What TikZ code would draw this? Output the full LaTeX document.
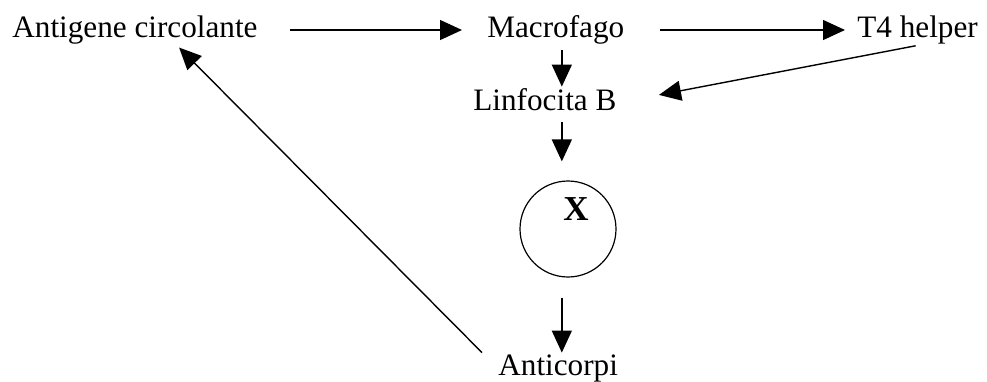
\documentclass[tikz,border=0pt]{standalone}
\usepackage{fontspec}
\setmainfont{Liberation Serif}
\usepackage{xcolor}
\usetikzlibrary{positioning,arrows.meta}
\definecolor{ImmInk}{HTML}{000000}
\tikzset{
  immLine/.style={-{Triangle[length=11pt, width=10pt]}, line width=0.7pt, draw=ImmInk},
  immLbl/.style={inner sep=0pt, text height=11pt, text depth=4pt,
    font=\fontsize{15.6}{18}\selectfont, text=ImmInk},
  immCell/.style={circle, draw=ImmInk, line width=0.6pt, minimum size=48pt, inner sep=0pt},
}
\begin{document}
\begin{tikzpicture}[x=0.5pt, y=-0.5pt]
  \useasboundingbox (0,0) rectangle (987,381);

  \node[immLbl, anchor=base west] (ant) at (12,37) {Antigene circolante};
  \node[immLbl, anchor=base west] (mac) at (487,37) {Macrofago};
  \node[immLbl, anchor=base west] (t4) at (857,37) {T4 helper};
  \node[immLbl, anchor=base west] (lin) at (473,110) {Linfocita B};
  \node[immCell] (cell) at (568,229) {};
  \node[immLbl, font=\fontsize{17.5}{18}\selectfont\bfseries] (x) at (576,213) {X};
  \node[immLbl, anchor=base west] (anti) at (498,375) {Anticorpi};

  \draw[immLine, shorten <=16pt, shorten >=12.5pt] (ant.east) -- (mac.west);
  \draw[immLine, shorten <=17.5pt, shorten >=6pt] (mac.east) -- (t4.west);
  \draw[immLine, shorten <=2.5pt, shorten >=0.5pt] ([xshift=3pt]mac.south) -- ([xshift=3pt]mac.south |- lin.north);
  \draw[immLine, shorten <=1pt, shorten >=21.5pt] (t4.south) -- (lin.east);
  \draw[immLine, shorten <=2pt, shorten >=9.5pt] ([xshift=3pt]mac.south |- lin.south) -- ([xshift=3pt]mac.south |- cell.north);
  \draw[immLine, shorten <=10pt] ([xshift=3pt]mac.south |- cell.south) -- ([xshift=3pt]mac.south |- anti.north);
  \draw[immLine, shorten >=1.5pt] ([xshift=-8pt]anti.north west) -- ([xshift=21pt]ant.south);

\end{tikzpicture}
\end{document}
